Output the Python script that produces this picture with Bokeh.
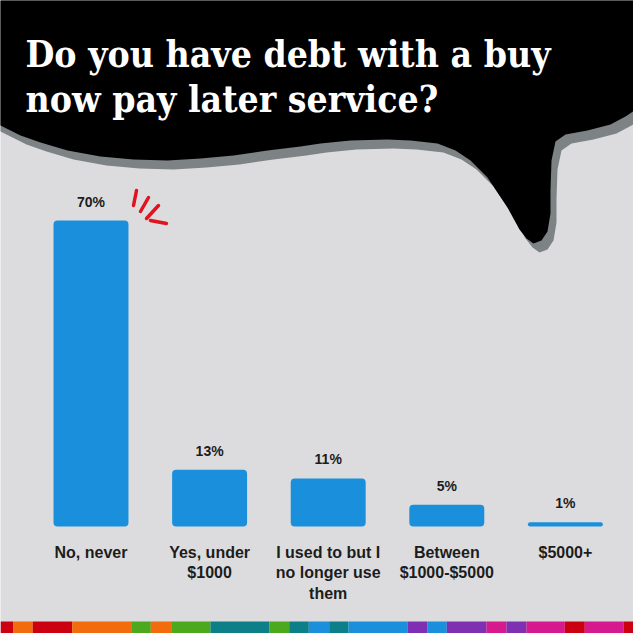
from bokeh.plotting import figure
from bokeh.core.properties import value
from bokeh.embed import file_html
from bokeh.resources import INLINE

# ---------------- data ----------------
categories = ["No, never", "Yes, under\n$1000", "I used to but I\nno longer use\nthem",
              "Between\n$1000-$5000", "$5000+"]
percentages = [70, 13, 11, 5, 1]
value_labels = ["70%", "13%", "11%", "5%", "1%"]
title_lines = ["Do you have debt with a buy", "now pay later service?"]

# ---------------- style ----------------
BG = "#dcdcde"
BLUE = "#1a8fdb"
INK = "#1c1c1c"
SHADOW = "#7d8285"
RED = "#e0141e"

W = H = 633
M = 0
SX = 118.6           # px per category step
SY = 4.37            # px per percent
X0_PX = 90.5         # x of first category centre
Y0_PX = 526.0        # y of 0 %

x_start = -(X0_PX - M) / SX
x_end = x_start + W / SX
y_end = (Y0_PX - M) / SY
y_start = y_end - H / SY


def wx(px):
    return x_start + (px - M) / SX


def wy(py):
    return y_end - (py - M) / SY


p = figure(width=W, height=H, x_range=(x_start, x_end), y_range=(y_start, y_end),
           output_backend="svg", toolbar_location=None, min_border=0,
           background_fill_color=BG, border_fill_color=BG, outline_line_color=None)
p.axis.visible = False
p.grid.visible = False

# ---------------- speech bubble (decoration) ----------------
bubble_px = [(660, -30), (660, 100), (640, 106), (625, 116), (610, 124), (587, 130),
             (565, 134), (555, 141), (551, 160), (550, 190), (550, 213), (547, 231),
             (541, 240), (533, 243), (526, 238), (519, 229), (507, 207), (487, 177),
             (470, 160), (455, 150), (437, 143), (410, 140), (387, 139), (350, 140),
             (320, 143), (300, 146), (267, 150), (233, 155), (200, 158), (167, 160),
             (133, 159), (100, 156), (67, 150), (40, 142), (20, 135), (0, 125),
             (-30, 110), (-30, -30)]
SHX, SHY = 6, 9
p.patch([wx(a + SHX) for a, b in bubble_px], [wy(b + SHY) for a, b in bubble_px],
        fill_color=SHADOW, line_color=None)
p.patch([wx(a) for a, b in bubble_px], [wy(b) for a, b in bubble_px],
        fill_color="#000000", line_color=None)

title_font = value("'DejaVu Serif Condensed', 'DejaVu Serif', serif")
p.text(x=[wx(25), wx(25)], y=[wy(53), wy(98)], text=title_lines,
       text_font=title_font, text_font_style="bold", text_font_size="37px",
       text_color="#ffffff", text_align="left", text_baseline="alphabetic")

# ---------------- bars ----------------
idx = list(range(len(categories)))
p.vbar(x=idx, top=percentages, bottom=0, width=0.632, fill_color=BLUE,
       line_color=None, border_radius=4)

label_font = value("Liberation Sans")
p.text(x=idx, y=[v + 19 / SY for v in percentages], text=value_labels,
       text_font=label_font, text_font_style="bold", text_font_size="14px",
       text_color=INK, text_align="center", text_baseline="middle")

p.text(x=idx, y=[-17 / SY] * len(idx), text=categories,
       text_font=label_font, text_font_style="bold", text_font_size="16px",
       text_color=INK, text_align="center", text_baseline="top", text_line_height=1.22)

# red emphasis strokes by the first bar
strokes = [((136, 190), (133, 205)), ((148, 197), (140, 211)),
           ((158, 205), (146, 218)), ((166, 223), (150, 220))]
p.segment(x0=[wx(a[0]) for a, b in strokes], y0=[wy(a[1]) for a, b in strokes],
          x1=[wx(b[0]) for a, b in strokes], y1=[wy(b[1]) for a, b in strokes],
          line_color=RED, line_width=3.5, line_cap="round")

# ---------------- colour stripe at the bottom (decoration) ----------------
stripe_edges = [0, 12.7, 32.3, 71.7, 130.7, 150.3, 170.7, 210, 269, 288.7, 308.3,
                328.7, 348, 407, 426.7, 446.3, 486, 506, 526, 564.3, 584.3, 623.3, 640]
R, O, G, T, B, P, MG = "#cc0010", "#f26b0c", "#4ca81c", "#0d7f88", "#1a8fdb", "#7f2fb2", "#d6198c"
stripe_colors = [R, O, R, O, G, O, G, T, G, T, B, T, B, P, B, P, MG, P, MG, R, MG, R]
p.quad(left=[wx(a) for a in stripe_edges[:-1]], right=[wx(a) for a in stripe_edges[1:]],
       top=wy(621), bottom=wy(640), fill_color=stripe_colors, line_color=None)

open("out.html", "w").write(file_html(p, INLINE))
